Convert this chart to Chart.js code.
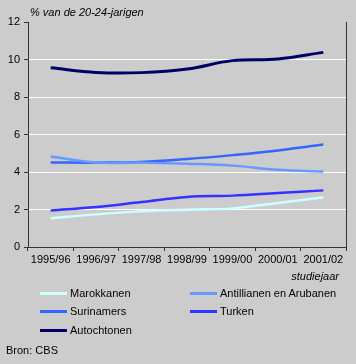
<!DOCTYPE html>
<html><head><meta charset="utf-8">
<script src="https://cdn.jsdelivr.net/npm/chart.js@4/dist/chart.umd.min.js"></script>
<style>
html,body{margin:0;padding:0;background:#cccccc;}
#wrap{position:relative;width:356px;height:364px;background:#cccccc;font-family:"Liberation Sans",Arial,sans-serif;font-size:11px;color:#000;}
canvas{position:absolute;left:0;top:0;}
.t{position:absolute;white-space:nowrap;line-height:12px;}
.it{font-style:italic;}
.lg{position:absolute;height:12px;line-height:12px;white-space:nowrap;}
.lg span.sw{position:absolute;left:0;top:5px;width:27px;height:3px;}
.lg span.tx{position:absolute;left:30px;top:0;}
</style></head>
<body>
<div id="wrap">
<canvas id="c" width="356" height="364"></canvas>
<div class="t it" style="left:30px;top:6px;">% van de 20-24-jarigen</div>
<div class="t it" style="right:17px;top:270px;">studiejaar</div>
<div id="legend"></div>
<div class="t" style="left:6px;top:344px;">Bron: CBS</div>
</div>
<script>
const categories = ["1995/96","1996/97","1997/98","1998/99","1999/00","2000/01","2001/02"];
const seriesNames = ["Marokkanen","Antillianen en Arubanen","Surinamers","Turken","Autochtonen"];
const marokkanen = [1.53,1.74,1.9,1.99,2.06,2.35,2.65];
const antillianen = [4.83,4.5,4.5,4.44,4.34,4.12,4.03];
const surinamers = [4.51,4.5,4.53,4.69,4.9,5.15,5.47];
const turken = [1.95,2.13,2.4,2.67,2.74,2.88,3.02];
const autochtonen = [9.56,9.31,9.3,9.49,9.94,10.03,10.38];
const yTicks = [0,2,4,6,8,10,12];
const colors = ["#ccffff","#6699ff","#3366ff","#3333ff","#000066"];

const values = [marokkanen, antillianen, surinamers, turken, autochtonen];
const datasets = seriesNames.map((n,i)=>({
  label:n, data:values[i], borderColor:colors[i], backgroundColor:colors[i],
  borderWidth: i===4 ? 3 : 2.5, pointRadius:0, tension:0.4, fill:false
}));

// legend (HTML text)
const lgPos = [[40,287],[190,287],[40,305],[190,305],[40,324]];
const lg = document.getElementById('legend');
seriesNames.forEach((n,i)=>{
  const d=document.createElement('div'); d.className='lg';
  d.style.left=lgPos[i][0]+'px'; d.style.top=lgPos[i][1]+'px';
  d.innerHTML='<span class="sw" style="background:'+colors[i]+'"></span><span class="tx"></span>';
  d.querySelector('.tx').textContent=n;
  lg.appendChild(d);
});

const rightBorder = {
  id:'rightBorder',
  afterDraw(chart){
    const a=chart.chartArea, ctx=chart.ctx;
    ctx.save(); ctx.strokeStyle='#333'; ctx.lineWidth=1;
    ctx.beginPath(); ctx.moveTo(Math.round(a.right)+0.5,a.top); ctx.lineTo(Math.round(a.right)+0.5,a.bottom); ctx.stroke();
    ctx.restore();
  }
};

new Chart(document.getElementById('c'),{
  type:'line',
  data:{labels:categories, datasets:datasets},
  options:{
    responsive:false, animation:false, devicePixelRatio:1,
    layout:{padding:{top:22,right:10,left:0,bottom:0}},
    plugins:{legend:{display:false},tooltip:{enabled:false}},
    scales:{
      x:{
        offset:true,
        grid:{offset:true,drawOnChartArea:false,drawTicks:true,tickLength:4,color:'#333'},
        border:{color:'#333',width:1},
        ticks:{color:'#000',font:{family:'"Liberation Sans", Arial, sans-serif',size:11},maxRotation:0,autoSkip:false,padding:2},
        afterFit(s){s.height=117;}
      },
      y:{
        min:0,max:12,
        afterBuildTicks(s){s.ticks=yTicks.map(v=>({value:v}));},
        grid:{
          color:(c)=> (c.tick && (c.tick.value===0||c.tick.value===12)) ? 'rgba(0,0,0,0)' : '#ffffff',
          tickColor:'#333', tickLength:4, lineWidth:1
        },
        border:{color:'#333',width:1},
        ticks:{color:'#000',font:{family:'"Liberation Sans", Arial, sans-serif',size:11},padding:4},
        afterFit(s){s.width=28;}
      }
    }
  },
  plugins:[rightBorder]
});
</script>
</body></html>
